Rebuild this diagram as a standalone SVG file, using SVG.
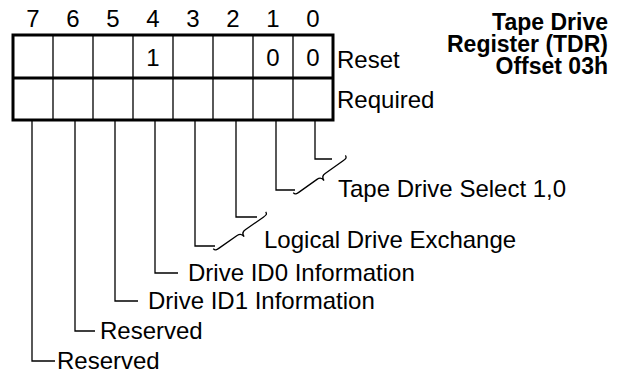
<svg xmlns="http://www.w3.org/2000/svg" width="623" height="377" viewBox="0 0 623 377">
<style>
text{font-family:"Liberation Sans",Arial,sans-serif;font-size:24px;fill:#000}
.b{font-weight:bold;text-anchor:end;font-size:23px}
.c{text-anchor:middle}
.thin{fill:none;stroke:#000;stroke-width:1.3}
.thick{fill:none;stroke:#000;stroke-width:3}
.ln{fill:none;stroke:#000;stroke-width:1.3}
</style>
<defs>
<path id="brace" d="M0,-3 C0,0 2,0 5,0 L27,0 C30,0 32,1 32,5 C32,1 34,0 37,0 L59,0 C62,0 64,0 64,-3" fill="none" stroke="#000" stroke-width="1.3"/>
</defs>
<rect width="623" height="377" fill="#fff"/>
<g id="title">
<text class="b" x="608" y="30">Tape Drive</text>
<text class="b" x="608" y="52">Register (TDR)</text>
<text class="b" x="608" y="74">Offset 03h</text>
</g>
<g id="bitnumbers">
<text class="c" x="33" y="27">7</text>
<text class="c" x="73" y="27">6</text>
<text class="c" x="113" y="27">5</text>
<text class="c" x="153" y="27">4</text>
<text class="c" x="193" y="27">3</text>
<text class="c" x="233" y="27">2</text>
<text class="c" x="273" y="27">1</text>
<text class="c" x="313" y="27">0</text>
</g>
<g id="register">
<path class="thin" d="M53,35V120M93,35V120M133,35V120M173,35V120M213,35V120M253,35V120M293,35V120"/>
<rect class="thick" x="13" y="35" width="320" height="85"/>
<line class="thick" x1="13" y1="78" x2="333" y2="78"/>
<text class="c" x="153" y="66">1</text>
<text class="c" x="273" y="66">0</text>
<text class="c" x="313" y="66">0</text>
<text x="337" y="68">Reset</text>
<text x="337" y="108">Required</text>
</g>
<g id="connectors">
<path class="ln" d="M315,121V159H332"/>
<path class="ln" d="M276,121V190H295"/>
<use href="#brace" transform="translate(295,195) rotate(-35.4)"/>
<path class="ln" d="M236,121V217H257"/>
<path class="ln" d="M195,121V246H215"/>
<use href="#brace" transform="translate(215,251) rotate(-35)"/>
<path class="ln" d="M155,121V273H178"/>
<path class="ln" d="M115,121V301H138"/>
<path class="ln" d="M75,121V331H95"/>
<path class="ln" d="M32,121V361H55"/>
</g>
<g id="labels">
<text x="338" y="197">Tape Drive Select 1,0</text>
<text x="264" y="248">Logical Drive Exchange</text>
<text x="188" y="281">Drive ID0 Information</text>
<text x="148" y="309">Drive ID1 Information</text>
<text x="100" y="339">Reserved</text>
<text x="57" y="369">Reserved</text>
</g>
</svg>
